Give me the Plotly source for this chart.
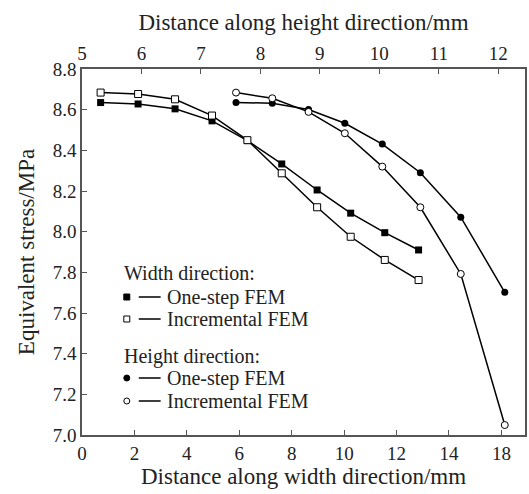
import plotly.graph_objects as go

# ---- data ----
width_x = [0.71, 2.14, 3.55, 4.96, 6.31, 7.62, 8.97, 10.25, 11.55, 12.84]   # bottom axis coordinate
width_onestep = [8.635, 8.628, 8.604, 8.545, 8.448, 8.333, 8.205, 8.091, 7.995, 7.910]
width_incr = [8.684, 8.677, 8.651, 8.571, 8.450, 8.287, 8.120, 7.975, 7.861, 7.762]

height_x = [7.59, 8.20, 8.81, 9.42, 10.05, 10.69, 11.37, 12.11]               # top axis coordinate
height_onestep = [8.635, 8.632, 8.601, 8.533, 8.431, 8.290, 8.071, 7.702]
height_incr = [8.684, 8.656, 8.589, 8.484, 8.320, 8.120, 7.792, 7.049]

bottom_tickvals = [0, 2, 4, 6, 8, 10, 12, 14, 16]
bottom_ticktext = ["0", "2", "4", "6", "8", "10", "12", "14", "18"]
top_tickvals = [5, 6, 7, 8, 9, 10, 11, 12]
y_tickvals = [7.0, 7.2, 7.4, 7.6, 7.8, 8.0, 8.2, 8.4, 8.6, 8.8]

FONT = "Liberation Serif"
FS = 19
LFS = 20
W, H = 529, 494
L, R, T, B = 82, 2, 69, 59

fig = go.Figure()
line = dict(color="black", width=1.5)
fig.add_trace(go.Scatter(x=width_x, y=width_onestep, mode="lines+markers", line=line,
                         marker=dict(symbol="square", size=7, color="black"), xaxis="x", yaxis="y"))
fig.add_trace(go.Scatter(x=width_x, y=width_incr, mode="lines+markers", line=line,
                         marker=dict(symbol="square", size=7, color="white", line=dict(color="black", width=1)),
                         xaxis="x", yaxis="y"))
fig.add_trace(go.Scatter(x=height_x, y=height_onestep, mode="lines+markers", line=line,
                         marker=dict(symbol="circle", size=7, color="black"), xaxis="x2", yaxis="y"))
fig.add_trace(go.Scatter(x=height_x, y=height_incr, mode="lines+markers", line=line,
                         marker=dict(symbol="circle", size=7, color="white", line=dict(color="black", width=1)),
                         xaxis="x2", yaxis="y"))

axcol = "#555555"
fig.update_layout(
    width=W, height=H, margin=dict(l=L, r=R, t=T, b=B),
    paper_bgcolor="white", plot_bgcolor="white", showlegend=False,
    font=dict(family=FONT, size=FS, color="#222"),
    xaxis=dict(range=[0, 16.9], tickvals=bottom_tickvals, ticktext=bottom_ticktext,
               ticks="inside", ticklen=5, tickcolor=axcol, showline=True, linecolor=axcol, linewidth=1.5,
               showgrid=False, zeroline=False,
               title=dict(text="Distance along width direction/mm", standoff=3)),
    xaxis2=dict(range=[5, 12.45], tickvals=top_tickvals, overlaying="x", side="top", anchor="y",
                ticks="inside", ticklen=5, tickcolor=axcol, showline=True, linecolor=axcol, linewidth=1.5,
                showgrid=False, zeroline=False,
                title=dict(text="Distance along height direction/mm", standoff=6)),
    yaxis=dict(range=[7.0, 8.8], tickvals=y_tickvals, tickformat=".1f",
               ticks="inside", ticklen=5, tickcolor=axcol, showline=True, linecolor=axcol, linewidth=1.5,
               mirror=True, showgrid=False, zeroline=False,
               title=dict(text="Equivalent stress/MPa", standoff=12)),
)

# ---- custom legend ----
def px(x):
    return (x - L) / (W - L - R)

def py(y):
    return (H - B - y) / (H - T - B)

legend_rows = [
    ("header", "Width direction:", 273),
    ("square-filled", "One-step FEM", 297),
    ("square-open", "Incremental FEM", 319),
    ("header", "Height direction:", 356),
    ("circle-filled", "One-step FEM", 378),
    ("circle-open", "Incremental FEM", 401),
]
shapes = []
annotations = []
for kind, text, yy in legend_rows:
    if kind == "header":
        annotations.append(dict(x=px(123), y=py(yy), xref="paper", yref="paper", text=text,
                                showarrow=False, xanchor="left", yanchor="middle", borderpad=0,
                                font=dict(family=FONT, size=LFS, color="#222")))
        continue
    s = 3
    fill = "black" if kind.endswith("filled") else "white"
    typ = "rect" if kind.startswith("square") else "circle"
    shapes.append(dict(type=typ, xref="paper", yref="paper", x0=px(127 - s), x1=px(127 + s),
                       y0=py(yy + s), y1=py(yy - s), fillcolor=fill, line=dict(color="black", width=1)))
    shapes.append(dict(type="line", xref="paper", yref="paper", x0=px(139), x1=px(161),
                       y0=py(yy), y1=py(yy), line=dict(color="black", width=1.5)))
    annotations.append(dict(x=px(166), y=py(yy), xref="paper", yref="paper", text=text,
                            showarrow=False, xanchor="left", yanchor="middle", borderpad=0,
                            font=dict(family=FONT, size=LFS, color="#222")))

fig.update_layout(shapes=shapes, annotations=annotations)
fig.write_html("out.html")
